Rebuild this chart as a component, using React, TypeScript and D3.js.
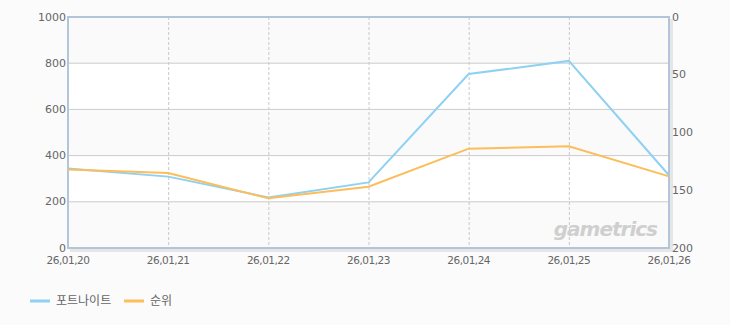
import React from "react";
import * as d3 from "d3";

const categories = ["26,01,20", "26,01,21", "26,01,22", "26,01,23", "26,01,24", "26,01,25", "26,01,26"];
const fortniteValues = [344, 309, 219, 284, 753, 810, 315];
const rankValues = [132, 135, 157, 147, 114, 112, 138];
const leftTicks = [0, 200, 400, 600, 800, 1000];
const rightTicks = [0, 50, 100, 150, 200];
const seriesNames = ["포트나이트", "순위"];

const W = 730, H = 325;
const L = 68, R = 669, T = 17, B = 248;
const FONT = "'DejaVu Sans', 'Noto Sans CJK KR', sans-serif";

export default function App() {
  const x = d3.scalePoint<string>().domain(categories).range([L, R]);
  const yL = d3.scaleLinear().domain([0, 1000]).range([B, T]);
  const yR = d3.scaleLinear().domain([0, 200]).range([T, B]);
  const lineL = d3.line<number>().x((_, i) => x(categories[i])!).y((d) => yL(d));
  const lineR = d3.line<number>().x((_, i) => x(categories[i])!).y((d) => yR(d));
  const bands = d3.range(leftTicks.length - 1).map((i) => [leftTicks[i], leftTicks[i + 1]]);
  return (
    <svg width={W} height={H} style={{ position: "absolute", left: 0, top: 0, background: "#fbfbfb" }}>
      <rect x={0} y={0} width={W} height={H} fill="#fbfbfb" />
      <rect x={L + 2} y={T + 2} width={R - L + 2} height={B - T + 2} fill="#e6e6e6" />
      {bands.map(([a, b], i) => (
        <rect key={i} x={L} y={yL(b)} width={R - L} height={yL(a) - yL(b)} fill={i % 2 === 0 ? "#fafafa" : "#ffffff"} />
      ))}
      {leftTicks.slice(1, -1).map((t) => (
        <line key={t} x1={L} x2={R} y1={yL(t)} y2={yL(t)} stroke="#cccccc" strokeWidth={1} />
      ))}
      {categories.slice(1, -1).map((c) => (
        <line key={c} x1={x(c)! + 0.5} x2={x(c)! + 0.5} y1={T} y2={B} stroke="#c8c8c8" strokeDasharray="3,2" />
      ))}
      <text x={657} y={236} textAnchor="end" fontFamily="'DejaVu Sans', sans-serif" fontStyle="italic" fontWeight="bold" fontSize={20} fill="#cfcfcf" letterSpacing={-1}>gametrics</text>
      <rect x={L} y={T} width={R - L} height={B - T} fill="none" stroke="#b3c5d8" strokeWidth={2} />
      <path d={lineL(fortniteValues)!} fill="none" stroke="#8fd1f2" strokeWidth={2} />
      <path d={lineR(rankValues)!} fill="none" stroke="#fcbd5a" strokeWidth={2} />
      {leftTicks.map((t) => (
        <text key={t} x={L - 2} y={yL(t) + 3.5} textAnchor="end" fontFamily={FONT} fontSize={11} fill="#666">{t}</text>
      ))}
      {rightTicks.map((t) => (
        <text key={t} x={R + 3} y={yR(t) + 3.5} textAnchor="start" fontFamily={FONT} fontSize={11} fill="#666">{t}</text>
      ))}
      {categories.map((c) => (
        <text key={c} x={x(c)!} y={264} textAnchor="middle" fontFamily={FONT} fontSize={10.5} fill="#666" letterSpacing={-0.5}>{c}</text>
      ))}
      <line x1={30} x2={50} y1={301} y2={301} stroke="#8fd1f2" strokeWidth={3} />
      <text x={56} y={305} fontFamily={FONT} fontSize={12} fill="#666">{seriesNames[0]}</text>
      <line x1={124} x2={144} y1={301} y2={301} stroke="#fcbd5a" strokeWidth={3} />
      <text x={150} y={305} fontFamily={FONT} fontSize={12} fill="#666">{seriesNames[1]}</text>
    </svg>
  );
}
